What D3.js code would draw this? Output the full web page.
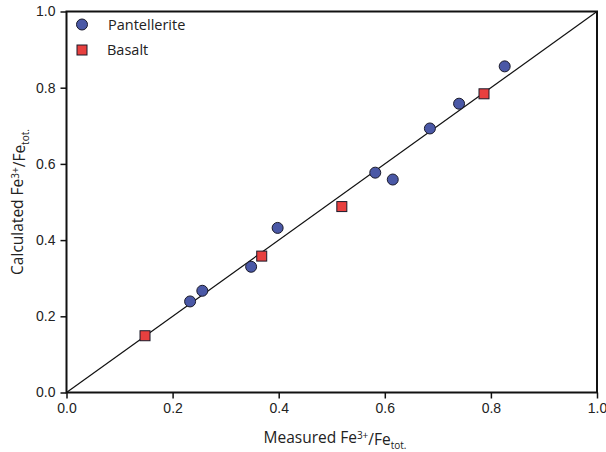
<!DOCTYPE html>
<html>
<head>
<meta charset="utf-8">
<script src="https://cdn.jsdelivr.net/npm/d3@7"></script>
<style>
  body { margin: 0; background: #fff; }
  svg { font-family: "Open Sans", "Noto Sans", sans-serif; }
</style>
</head>
<body>
<svg id="chart" width="606" height="452"></svg>
<script>
// measured vs calculated Fe3+/Fetot.
const pantMeasured = [0.233, 0.256, 0.348, 0.398, 0.582, 0.615, 0.685, 0.740, 0.826];
const pantCalculated = [0.239, 0.267, 0.330, 0.432, 0.577, 0.559, 0.693, 0.758, 0.856];
const basaltMeasured = [0.148, 0.368, 0.519, 0.787];
const basaltCalculated = [0.149, 0.358, 0.488, 0.784];
const tickValues = [0, 0.2, 0.4, 0.6, 0.8, 1.0];

const svg = d3.select("#chart");
const plotLeft = 66.5, plotRight = 597, plotTop = 11.5, plotBottom = 392.5;

const x = d3.scaleLinear().domain([0, 1]).range([plotLeft, plotRight]);
const y = d3.scaleLinear().domain([0, 1]).range([plotBottom, plotTop]);

// axes
const xAxis = svg.append("g")
    .attr("transform", `translate(0,${plotBottom})`)
    .call(d3.axisBottom(x).tickValues(tickValues).tickFormat(d3.format(".1f")).tickSize(6).tickPadding(5));
const yAxis = svg.append("g")
    .attr("transform", `translate(${plotLeft},0)`)
    .call(d3.axisLeft(y).tickValues(tickValues).tickFormat(d3.format(".1f")).tickSize(6).tickPadding(5));

[xAxis, yAxis].forEach((g) => {
    g.select(".domain").remove();
    g.selectAll("line").attr("stroke", "#111").attr("stroke-width", 1.5);
    g.selectAll("text").style("font-size", "14px").attr("fill", "#222");
});

// frame
svg.append("rect")
    .attr("x", plotLeft).attr("y", plotTop)
    .attr("width", plotRight - plotLeft).attr("height", plotBottom - plotTop)
    .attr("fill", "none").attr("stroke", "#111").attr("stroke-width", 2);

// 1:1 line
svg.append("line")
    .attr("x1", x(0)).attr("y1", y(0))
    .attr("x2", x(1)).attr("y2", y(1))
    .attr("stroke", "#111").attr("stroke-width", 1.2);

const blue = "#4a58a6", red = "#e8403f", edge = "#1a1a2a";
const side = 10;

// pantellerite circles
svg.selectAll("circle.pant")
    .data(d3.zip(pantMeasured, pantCalculated))
    .enter()
    .append("circle")
    .attr("class", "pant")
    .attr("cx", (d) => x(d[0]))
    .attr("cy", (d) => y(d[1]))
    .attr("r", 5.5)
    .attr("fill", blue)
    .attr("stroke", edge)
    .attr("stroke-width", 1);

// basalt squares
svg.selectAll("rect.basalt")
    .data(d3.zip(basaltMeasured, basaltCalculated))
    .enter()
    .append("rect")
    .attr("class", "basalt")
    .attr("x", (d) => x(d[0]) - side / 2)
    .attr("y", (d) => y(d[1]) - side / 2)
    .attr("width", side)
    .attr("height", side)
    .attr("fill", red)
    .attr("stroke", edge)
    .attr("stroke-width", 1);

// legend
svg.append("circle").attr("cx", 82).attr("cy", 24.5).attr("r", 5.5)
    .attr("fill", blue).attr("stroke", edge).attr("stroke-width", 1);
svg.append("text").attr("x", 108).attr("y", 29.5).text("Pantellerite")
    .style("font-size", "14.5px").attr("fill", "#222");
svg.append("rect").attr("x", 77).attr("y", 45).attr("width", side).attr("height", side)
    .attr("fill", red).attr("stroke", edge).attr("stroke-width", 1);
svg.append("text").attr("x", 107).attr("y", 55).text("Basalt")
    .style("font-size", "14.5px").attr("fill", "#222");

// axis titles
function axisTitle(sel, label) {
    sel.style("font-size", "15.5px").attr("fill", "#222").attr("text-anchor", "middle");
    sel.append("tspan").text(label + " Fe");
    sel.append("tspan").text("3+").attr("dy", "-0.45em").style("font-size", "10px");
    sel.append("tspan").text("/Fe").attr("dy", "0.45em");
    sel.append("tspan").text("tot.").attr("dy", "0.4em").style("font-size", "10px");
}

axisTitle(svg.append("text").attr("x", 335).attr("y", 443), "Measured");
axisTitle(svg.append("text").attr("transform", "translate(23,202) rotate(-90)"), "Calculated");
</script>
</body>
</html>
